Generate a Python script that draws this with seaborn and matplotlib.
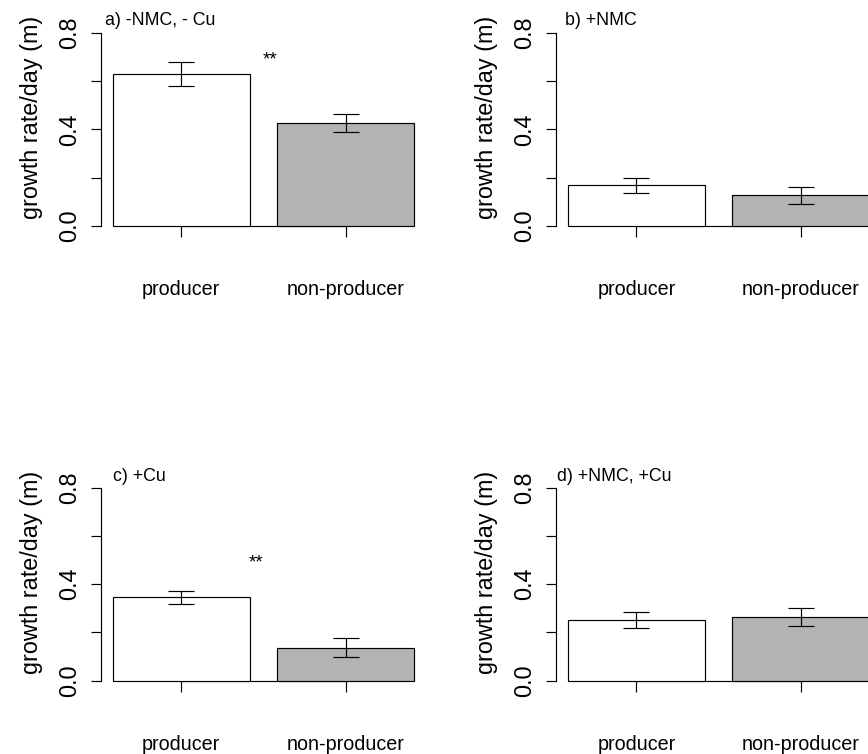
import matplotlib
matplotlib.use("Agg")
import matplotlib.pyplot as plt
import seaborn as sns
import pandas as pd

# Growth rate per day (mean and standard error) for each treatment
strains = ["producer", "non-producer"]
panel_titles = ["a) -NMC, - Cu", "b) +NMC", "c) +Cu", "d) +NMC, +Cu"]
means_a = [0.629, 0.425]
se_a = [0.050, 0.037]
means_b = [0.168, 0.127]
se_b = [0.031, 0.036]
means_c = [0.345, 0.137]
se_c = [0.026, 0.039]
means_d = [0.251, 0.265]
se_d = [0.033, 0.037]
significance = ["**", "", "**", ""]

y_ticks = [0.0, 0.2, 0.4, 0.6, 0.8]
y_tick_labels = ["0.0", "", "0.4", "", "0.8"]
y_label = "growth rate/day (m)"

bar_colors = {"producer": "white", "non-producer": "#B3B3B3"}

sns.set_theme(style="white")
plt.rcParams["font.family"] = ["Liberation Sans", "DejaVu Sans"]
plt.rcParams.update({"text.color": "black", "axes.labelcolor": "black",
                     "xtick.color": "black", "ytick.color": "black"})

W, H = 868, 754
fig = plt.figure(figsize=(W / 100, H / 100), dpi=100)


def px_axes(left, zero_y, top_y, width):
    """Axes placed by pixel coordinates: left edge, y of value 0 and of value 0.8."""
    return fig.add_axes([left / W, 1 - zero_y / H, width / W, (zero_y - top_y) / H])


axes = [
    px_axes(100.6, 226.0, 32.7, 325.8),
    px_axes(555.7, 226.0, 32.7, 325.8),
    px_axes(100.6, 680.7, 487.7, 325.8),
    px_axes(555.7, 680.7, 487.7, 325.8),
]

all_means = [means_a, means_b, means_c, means_d]
all_se = [se_a, se_b, se_c, se_d]
title_pos = [(0.012, 1.040), (0.029, 1.040), (0.037, 1.036), (0.004, 1.036)]
star_pos = [(0.537, 0.670), None, (0.456, 0.468), None]

lw = 0.85
for i, ax in enumerate(axes):
    df = pd.DataFrame({"strain": strains, "rate": all_means[i]})
    sns.barplot(data=df, x="strain", y="rate", hue="strain", palette=bar_colors,
                order=strains, hue_order=strains, width=1 / 1.2, errorbar=None,
                edgecolor="black", linewidth=lw, legend=False, ax=ax)
    for patch in ax.patches:
        patch.set_clip_on(False)
    ax.errorbar(x=[0, 1], y=all_means[i], yerr=all_se[i], fmt="none",
                ecolor="black", elinewidth=lw, capsize=9.4, capthick=lw)

    ax.set_xlim(-0.49, 1.49)
    ax.set_ylim(0, 0.8)
    ax.set_facecolor("none")

    for side in ("top", "right"):
        ax.spines[side].set_visible(False)
    ax.spines["left"].set_bounds(0, 0.8)
    ax.spines["bottom"].set_bounds(0, 1)
    for side in ("left", "bottom"):
        ax.spines[side].set_color("black")
        ax.spines[side].set_linewidth(lw)
    ax.spines["bottom"].set_zorder(0.5)

    ax.set_yticks(y_ticks)
    ax.set_yticklabels(y_tick_labels, rotation=90, fontsize=16.8)
    for lab in ax.get_yticklabels():
        lab.set_va("center")
        lab.set_ha("right")
    ax.set_xticks([0, 1])
    ax.set_xticklabels(strains, fontsize=14.2)
    ax.tick_params(axis="y", direction="out", length=7.3, width=lw, color="black",
                   pad=7, left=True, labelcolor="black")
    ax.tick_params(axis="x", direction="out", length=7.6, width=lw, color="black",
                   pad=31.3, bottom=True, labelcolor="black")
    ax.set_xlabel("")
    ax.set_ylabel(y_label, fontsize=16.8, va="center", color="black")
    ax.yaxis.set_label_coords(-0.212, 0.563)

    tx, ty = title_pos[i]
    ax.text(tx, ty, panel_titles[i], transform=ax.transAxes, ha="left",
            va="baseline", fontsize=12.8, color="black")
    if significance[i]:
        sx, sy = star_pos[i]
        ax.text(sx, sy, significance[i], ha="center", va="baseline",
                fontsize=13.5, color="black")

fig.savefig("out.png", dpi=100)
